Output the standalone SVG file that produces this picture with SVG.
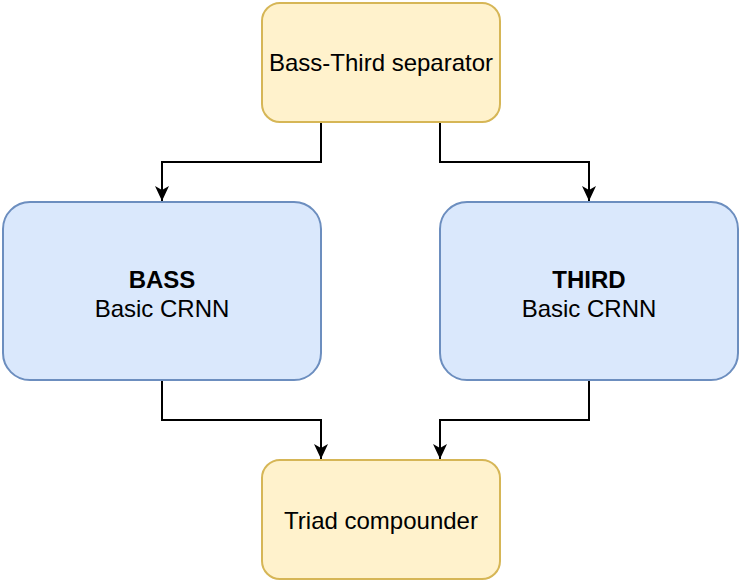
<svg xmlns="http://www.w3.org/2000/svg" width="742" height="586" viewBox="0 0 742 586">
<defs>
<style>
.y{fill:#fff2cc;stroke:#d6b656;stroke-width:2}
.b{fill:#dae8fc;stroke:#6c8ebf;stroke-width:2}
.t{font-family:"Liberation Sans",Arial,sans-serif;font-size:24px;fill:#000;text-anchor:middle}
.e{fill:none;stroke:#000;stroke-width:2}
</style>
<marker id="a" viewBox="0 0 16 14" markerWidth="16" markerHeight="14" refX="15" refY="7" orient="auto" markerUnits="userSpaceOnUse">
<path d="M0,0 L15,7 L0,14 L4,7 Z" fill="#000"/>
</marker>
</defs>
<rect width="742" height="586" fill="#fff"/>
<g id="edges">
<path class="e" d="M321,122 V162 H162 V201" marker-end="url(#a)"/>
<path class="e" d="M440,122 V162 H589 V201" marker-end="url(#a)"/>
<path class="e" d="M162,380 V420 H321 V459" marker-end="url(#a)"/>
<path class="e" d="M589,380 V420 H440 V459" marker-end="url(#a)"/>
</g>
<g id="separator">
<rect class="y" x="262" y="3" width="238" height="119" rx="18"/>
<text class="t" x="381" y="71">Bass-Third separator</text>
</g>
<g id="bass">
<rect class="b" x="3" y="202" width="318" height="178" rx="27"/>
<text class="t" x="162" y="288" font-weight="bold">BASS</text>
<text class="t" x="162" y="317">Basic CRNN</text>
</g>
<g id="third">
<rect class="b" x="440" y="202" width="298" height="178" rx="27"/>
<text class="t" x="589" y="288" font-weight="bold">THIRD</text>
<text class="t" x="589" y="317">Basic CRNN</text>
</g>
<g id="compounder">
<rect class="y" x="262" y="460" width="238" height="119" rx="18"/>
<text class="t" x="381" y="529">Triad compounder</text>
</g>
</svg>
